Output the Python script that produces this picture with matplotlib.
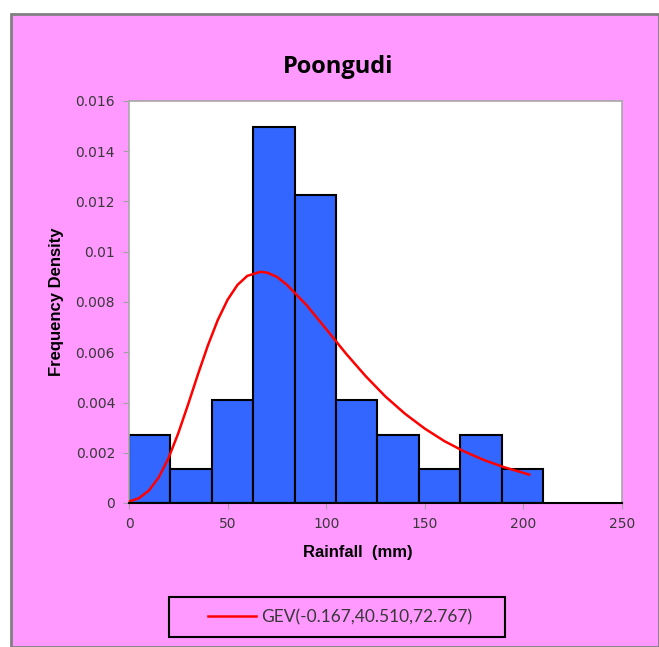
import matplotlib

matplotlib.use("Agg")

import matplotlib.pyplot as plt
from matplotlib.patches import Rectangle
import numpy as np

# histogram: 35 values in bins of 21 mm
BIN_EDGES = [0, 21, 42, 63, 84, 105, 126, 147, 168, 189, 210]
COUNTS = [2, 1, 3, 11, 9, 3, 2, 1, 2, 1]
N_TOTAL = 35

# fitted GEV curve
CURVE_X = [0, 5, 10, 15, 20, 25, 30, 35, 40, 45, 50, 55, 60, 66.6, 70, 75, 80, 90,
           100, 110, 120, 130, 140, 150, 160, 170, 180, 190, 200, 203]
CURVE_Y = [0.00006, 0.00019, 0.00049, 0.00101, 0.00178, 0.00278, 0.00393, 0.00513,
           0.00627, 0.00728, 0.00809, 0.00868, 0.00904, 0.00920, 0.00917, 0.00900,
           0.00869, 0.00788, 0.00692, 0.00595, 0.00505, 0.00424, 0.00355, 0.00296,
           0.00246, 0.00205, 0.00171, 0.00143, 0.00120, 0.00113]

LEGEND_LABEL = "GEV(-0.167,40.510,72.767)"
TITLE = "Poongudi"
X_LABEL = "Rainfall  (mm)"
Y_LABEL = "Frequency Density"

PINK = "#FF99FF"
BAR_BLUE = "#3366FF"
TEXT_GREY = "#383838"

W, H = 659, 647


def main():
    fig = plt.figure(figsize=(W / 100, H / 100), dpi=100)
    fig.patch.set_facecolor("white")

    # pink chart area with grey frame
    fig.patches.append(Rectangle((11 / W, 0), 1 - 11 / W, 1 - 14 / H,
                                 transform=fig.transFigure, facecolor=PINK,
                                 edgecolor="#808080", linewidth=2, zorder=-2))
    # legend box
    fig.patches.append(Rectangle((169 / W, 1 - 637 / H), 336 / W, 40 / H,
                                 transform=fig.transFigure, facecolor=PINK,
                                 edgecolor="black", linewidth=1.5, zorder=-1))

    ax = fig.add_axes([129 / W, 1 - 503 / H, 493 / W, 402 / H])
    ax.set_zorder(1)
    ax.set_facecolor("white")

    widths = np.diff(BIN_EDGES)
    density = np.array(COUNTS) / (N_TOTAL * widths)
    ax.bar(BIN_EDGES[:-1], density, width=widths, align="edge",
           color=BAR_BLUE, edgecolor="black", linewidth=1.5, zorder=2)

    ax.plot(CURVE_X, CURVE_Y, color="red", linewidth=1.8, zorder=3,
            label=LEGEND_LABEL)

    ax.set_xlim(0, 250)
    ax.set_ylim(0, 0.016)
    ax.set_xticks([0, 50, 100, 150, 200, 250])
    ax.set_yticks([0, 0.002, 0.004, 0.006, 0.008, 0.01, 0.012, 0.014, 0.016])
    ax.set_yticklabels(["0", "0.002", "0.004", "0.006", "0.008", "0.01",
                        "0.012", "0.014", "0.016"])

    for side in ["top", "right", "left"]:
        ax.spines[side].set_color("#A8A8A8")
        ax.spines[side].set_linewidth(1.2)
    ax.spines["bottom"].set_color("black")
    ax.spines["bottom"].set_linewidth(1.5)
    ax.spines["bottom"].set_zorder(4)

    ax.tick_params(axis="both", direction="out", length=4, color="#A0A0A0",
                   labelsize=10, labelcolor=TEXT_GREY, pad=6)
    for lab in ax.get_xticklabels() + ax.get_yticklabels():
        lab.set_family("DejaVu Sans")

    fig.text(338 / W, 1 - 67 / H, TITLE, ha="center", va="center",
             fontsize=17, fontweight="bold", family="Open Sans")
    fig.text(358 / W, 1 - 553 / H, X_LABEL, ha="center", va="center",
             fontsize=12, fontweight="bold", family="Liberation Sans")
    fig.text(57 / W, 1 - 302 / H, Y_LABEL, ha="center", va="center",
             rotation=90, fontsize=12, fontweight="bold",
             family="Liberation Sans")

    leg = fig.legend(loc="center", bbox_to_anchor=(340 / W, 1 - 617 / H),
                     frameon=False, handlelength=2.75, handletextpad=0.3,
                     prop={"family": "Lato", "size": 12.5})
    for t in leg.get_texts():
        t.set_color(TEXT_GREY)

    fig.savefig("out.png", dpi=100, facecolor=fig.get_facecolor())
    plt.close(fig)


if __name__ == "__main__":
    main()
